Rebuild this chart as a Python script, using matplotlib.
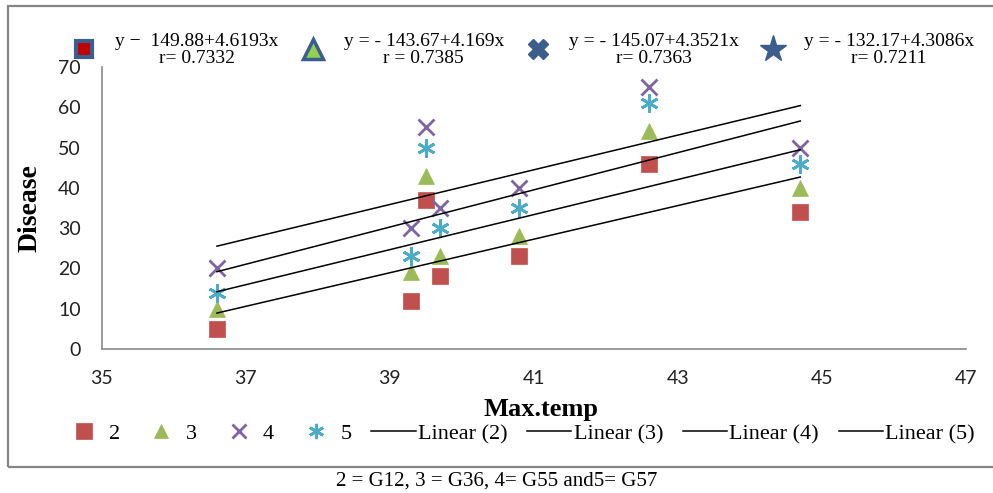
import numpy as np
import matplotlib
matplotlib.use("Agg")
import matplotlib.pyplot as plt
from matplotlib.lines import Line2D
from matplotlib.patches import Rectangle

# Max temperature for each observation
max_temp = [36.6, 39.3, 39.5, 39.7, 40.8, 42.6, 44.7]

# Disease values per genotype (2 = G12, 3 = G36, 4 = G55, 5 = G57)
disease_2 = [5, 12, 37, 18, 23, 46, 34]
disease_3 = [10, 19, 43, 23, 28, 54, 40]
disease_4 = [20, 30, 55, 35, 40, 65, 50]
disease_5 = [14, 23, 50, 30, 35, 61, 46]

series_names = ["2", "3", "4", "5"]
equations = [
    "y \u2212  149.88+4.6193x\nr= 0.7332",
    "y = - 143.67+4.169x\nr = 0.7385",
    "y = - 145.07+4.3521x\nr= 0.7363",
    "y = - 132.17+4.3086x\nr= 0.7211",
]

x_ticks = [35, 37, 39, 41, 43, 45, 47]
y_ticks = [0, 10, 20, 30, 40, 50, 60, 70]

colors = ["#C0504D", "#9BBB59", "#8064A2", "#4BACC6"]
markers = ["s", "^", "x", (6, 2, 0)]
msizes = [12, 12, 11, 13]
serif = "Liberation Serif"

fig = plt.figure(figsize=(9.93, 4.93), dpi=100)
ax = fig.add_axes([0.1024, 0.2921, 0.8704, 0.572])

all_y = [disease_2, disease_3, disease_4, disease_5]
x = np.array(max_temp)
for ys, c, m, ms in zip(all_y, colors, markers, msizes):
    ax.plot(x, ys, linestyle="none", marker=m, markersize=ms, color=c,
            markeredgewidth=2 if m != "s" and m != "^" else 0.5, zorder=2)

# linear trend lines
for ys in all_y:
    k, b = np.polyfit(x, ys, 1)
    xs = np.array([x.min(), x.max()])
    ax.plot(xs, k * xs + b, color="black", linewidth=1.1, zorder=3)

ax.set_xlim(35, 47)
ax.set_ylim(0, 70)
ax.set_xticks(x_ticks)
ax.set_yticks(y_ticks)
ax.tick_params(length=0, labelsize=14, labelcolor="#222222", pad=15)
for lab in ax.get_xticklabels() + ax.get_yticklabels():
    lab.set_family("Lato")
for s in ["top", "right"]:
    ax.spines[s].set_visible(False)
for s in ["left", "bottom"]:
    ax.spines[s].set_color("#8a8a8a")
    ax.spines[s].set_linewidth(1.2)

ax.set_ylabel("Disease", fontsize=20, fontweight="bold", family=serif)
ax.yaxis.set_label_coords(-0.068, 0.5)
ax.set_xlabel("Max.temp", fontsize=19, fontweight="bold", family=serif)
ax.xaxis.set_label_coords(0.508, -0.175)

# bottom legend: markers then trend lines
handles = []
leg_ms = [11, 10, 10, 11]
for c, m, ms in zip(colors, markers, leg_ms):
    handles.append(Line2D([], [], linestyle="none", marker=m, markersize=ms, color=c,
                          markeredgewidth=2 if m not in ("s", "^") else 0.5))
for _ in series_names:
    handles.append(Line2D([], [], color="black", linewidth=1.1))
labels = series_names + ["Linear (%s)" % n for n in series_names]
leg = fig.legend(handles, labels, loc="center", bbox_to_anchor=(0.522, 0.12), ncol=8,
                 frameon=False, prop={"family": serif, "size": 16},
                 handlelength=2.0, handletextpad=0.1, columnspacing=0.88, borderpad=0)

# top legend with the regression equations
eq_handles = [
    Line2D([], [], linestyle="none", marker="s", markersize=12, markerfacecolor="#C00000",
           markeredgecolor="#3B5E8C", markeredgewidth=3),
    Line2D([], [], linestyle="none", marker="^", markersize=14, markerfacecolor="#92D050",
           markeredgecolor="#3B5E8C", markeredgewidth=2.5),
    Line2D([], [], linestyle="none", marker="X", markersize=15, markerfacecolor="#3B5E8C",
           markeredgecolor="#3B5E8C"),
    Line2D([], [], linestyle="none", marker="*", markersize=20, markerfacecolor="#3B5E8C",
           markeredgecolor="#3B5E8C"),
]
leg2 = fig.legend(eq_handles, equations, loc="center", bbox_to_anchor=(0.525, 0.899), ncol=4,
                  frameon=False, prop={"family": serif, "size": 14},
                  handlelength=1.6, handletextpad=0.8, columnspacing=0.95, borderpad=0)
for t in leg2.get_texts():
    t.set_multialignment("center")
    t.set_linespacing(1.0)

# outer chart border
fig.patches.append(Rectangle((8 / 993, 26 / 493), 1.0, 461 / 493, transform=fig.transFigure,
                             fill=False, edgecolor="#858585", linewidth=1.6))

fig.text(0.5, 0.025, "2 = G12, 3 = G36, 4= G55 and5= G57", ha="center", va="center",
         family=serif, fontsize=15)

fig.savefig("out.png", dpi=100)
